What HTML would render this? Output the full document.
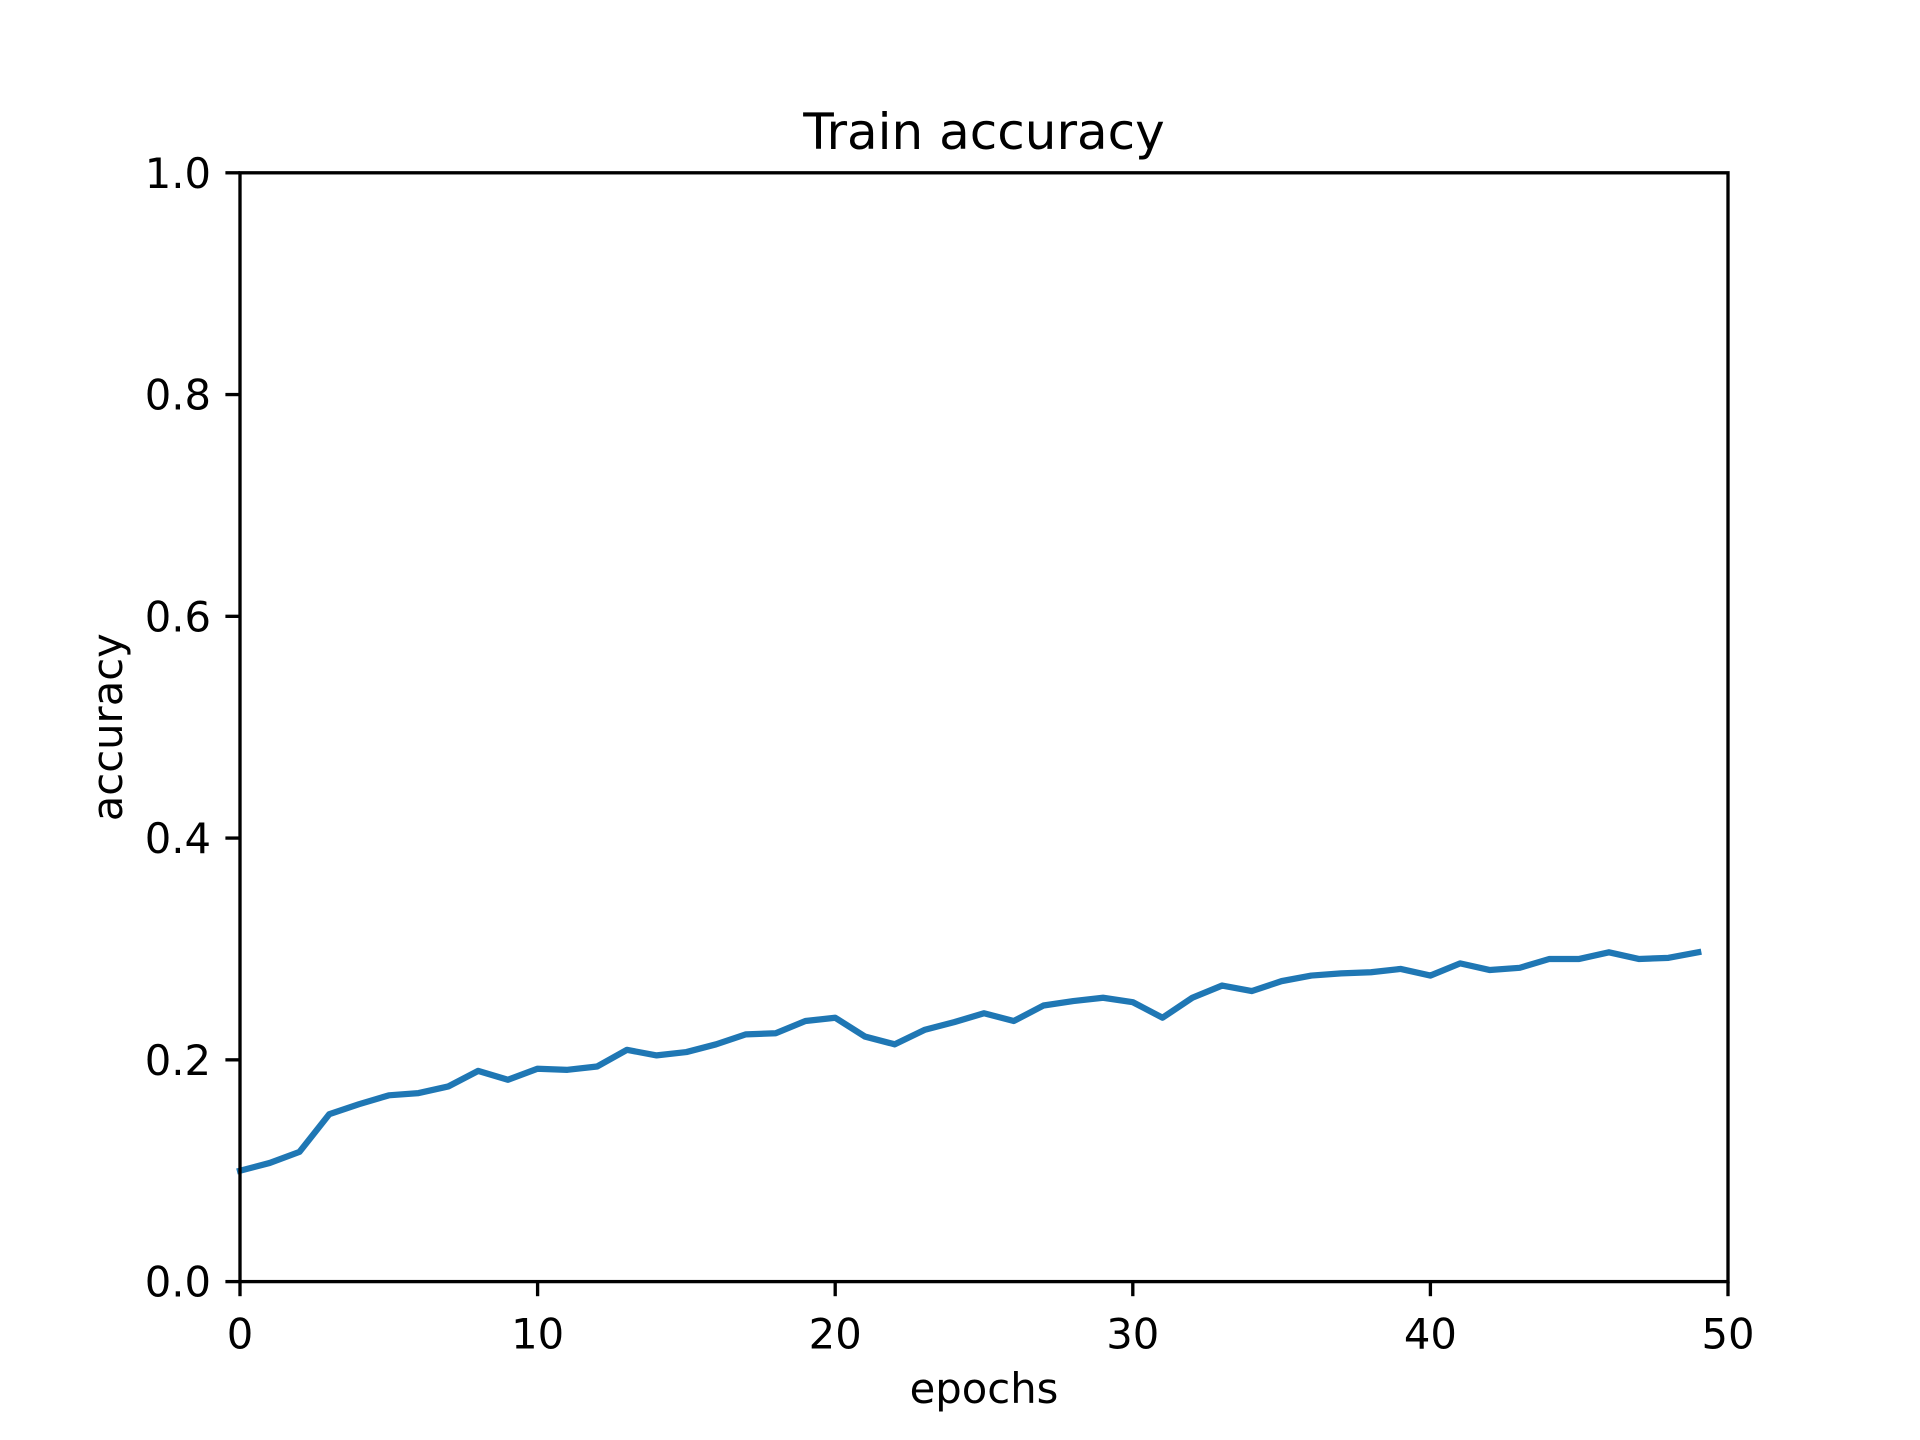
<!DOCTYPE html>
<html><head><meta charset="utf-8"><style>
html,body{margin:0;padding:0;background:#fff;}
svg{display:block;}
text{font-family:"DejaVu Sans","Liberation Sans",sans-serif;fill:#000;}
</style></head><body>
<svg id="chart" width="1920" height="1440" viewBox="0 0 1920 1440" xmlns="http://www.w3.org/2000/svg">
<rect width="1920" height="1440" fill="#fff"/>
<g id="plot"></g>
</svg>
<script>
const epochs = [0,1,2,3,4,5,6,7,8,9,10,11,12,13,14,15,16,17,18,19,20,21,22,23,24,25,26,27,28,29,30,31,32,33,34,35,36,37,38,39,40,41,42,43,44,45,46,47,48,49];
const accuracy = [0.100,0.107,0.117,0.151,0.160,0.168,0.170,0.176,0.190,0.182,0.192,0.191,0.194,0.209,0.204,0.207,0.214,0.223,0.224,0.235,0.238,0.221,0.214,0.227,0.234,0.242,0.235,0.249,0.253,0.256,0.252,0.238,0.256,0.267,0.262,0.271,0.276,0.278,0.279,0.282,0.276,0.287,0.281,0.283,0.291,0.291,0.297,0.291,0.292,0.297];
const xTicks = [0,10,20,30,40,50];
const yTicks = [0.0,0.2,0.4,0.6,0.8,1.0];
const yTickLabels = ["0.0","0.2","0.4","0.6","0.8","1.0"];

const L=240,R=1728,T=172.8,B=1281.6;
const xs=v=>L+(v-0)/(50-0)*(R-L);
const ys=v=>B-(v-0)/(1-0)*(B-T);
const NS="http://www.w3.org/2000/svg";
const g=document.getElementById('plot');
function mk(tag,attrs,parent){const e=document.createElementNS(NS,tag);for(const k in attrs)e.setAttribute(k,attrs[k]);(parent||g).appendChild(e);return e;}

const pts=epochs.map((e,i)=>xs(e).toFixed(2)+','+ys(accuracy[i]).toFixed(2)).join(' ');
const line=mk('polyline',{points:pts,fill:'none',stroke:'#1f77b4','stroke-width':6.25,'stroke-linejoin':'round','stroke-linecap':'square'});



const frame=mk('rect',{x:L,y:T,width:R-L,height:B-T,fill:'none',stroke:'#000','stroke-width':3.33});



xTicks.forEach(t=>{
  const tk=mk('line',{x1:xs(t),x2:xs(t),y1:B,y2:B+14.6,stroke:'#000','stroke-width':3.33});
  
  
  const lb=mk('text',{x:xs(t),y:B+29+38,'text-anchor':'middle','font-size':41.7});
  lb.textContent=String(t);
  
  
});
yTicks.forEach((t,i)=>{
  const tk=mk('line',{x1:L-14.6,x2:L,y1:ys(t),y2:ys(t),stroke:'#000','stroke-width':3.33});
  
  
  const lb=mk('text',{x:L-29,y:ys(t)+15,'text-anchor':'end','font-size':41.7});
  lb.textContent=yTickLabels[i];
  
  
});
const title=mk('text',{x:(L+R)/2,y:149,'text-anchor':'middle','font-size':50});
title.textContent='Train accuracy';


const xl=mk('text',{x:(L+R)/2,y:1403,'text-anchor':'middle','font-size':41.7});
xl.textContent='epochs';


const yl=mk('text',{x:0,y:0,'text-anchor':'middle','font-size':41.7,transform:'translate(122,'+((T+B)/2)+') rotate(-90)'});
yl.textContent='accuracy';


</script>
</body></html>
